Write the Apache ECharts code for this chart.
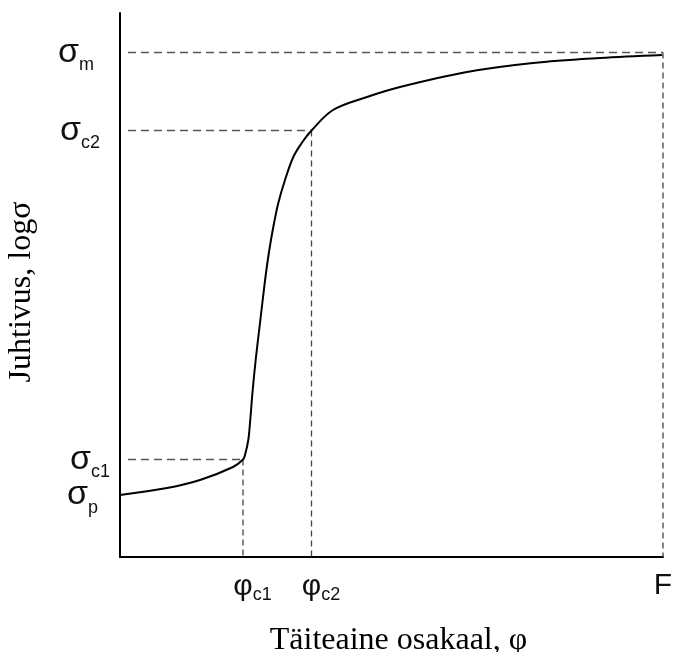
<!DOCTYPE html>
<html><head><meta charset="utf-8">
<script src="https://cdn.jsdelivr.net/npm/echarts@6/dist/echarts.min.js"></script>
<style>html,body{margin:0;padding:0;background:#fff}#c{width:673px;height:652px}</style>
</head><body><div id="c"></div><script>
// Curve (filler fraction φ vs log conductivity)
const curveX = [0, 47, 80, 113, 123, 125, 128.3, 130, 132.7, 136, 140, 142.7, 146, 149.3, 153.3, 158.3, 165, 173.3, 181.7, 191.5, 213, 247, 280, 347, 413, 480, 542];
const curveY = [62, 69, 77, 90, 97.5, 102, 117, 134, 167, 200, 234, 257, 284, 307, 330, 354, 377, 400, 414, 426.5, 447, 460, 470, 485, 494, 499, 502];

// Axis marks
const xTickValues = [123, 191.5, 543];
const xLabelBase = ['φ', 'φ', 'F'];
const xLabelSub = ['c1', 'c2', ''];
const yTickValues = [62, 97.5, 426.5, 504.5];
const yLabelBase = ['σ', 'σ', 'σ', 'σ'];
const yLabelSub = ['p', 'c1', 'c2', 'm'];

// Guide lines: σ level joined to φ position
const guideSigma = [97.5, 426.5, 504.5];
const guidePhi = [123, 191.5, 543];

const xMax = 543, yMax = 544;
const guideStart = 8;
const yIndent = [9, 12, 2, 0];

function idxOf(arr, v) { for (let i = 0; i < arr.length; i++) if (Math.abs(arr[i] - v) < 0.01) return i; return -1; }

const yRich = { b: { fontSize: 18, fontFamily: 'Liberation Sans', color: '#111', lineHeight: 4, padding: [26, 0, 0, 0] } };
yIndent.forEach((p, i) => { yRich['a' + i] = { fontSize: 34, fontFamily: 'Liberation Sans', color: '#111', lineHeight: 4, padding: [13, 0, 13, p] }; });

const series = [];
guideSigma.forEach((s, i) => {
  series.push({ type: 'line', data: [[guideStart, s], [guidePhi[i], s]], showSymbol: false, silent: true,
    lineStyle: { color: '#555', width: 1.3, type: [8, 5] } });
  series.push({ type: 'line', data: [[guidePhi[i], s], [guidePhi[i], 0]], showSymbol: false, silent: true,
    lineStyle: { color: '#444', width: 1.3, type: [6, 4] } });
});
series.push({ type: 'line', data: curveX.map((x, i) => [x, curveY[i]]), showSymbol: false, smooth: 0.35,
  lineStyle: { color: '#000', width: 2 } });

const chart = echarts.init(document.getElementById('c'), null, { renderer: 'canvas' });
chart.setOption({
  animation: false,
  backgroundColor: '#fff',
  grid: { left: 120, top: 13, width: 543, height: 544, containLabel: false, outerBoundsMode: 'none' },
  xAxis: {
    type: 'value', min: 0, max: xMax,
    name: 'Täiteaine osakaal, φ', nameLocation: 'middle', nameGap: 68,
    nameTextStyle: { fontFamily: 'Liberation Serif', fontSize: 32, color: '#000', padding: [0, 0, 0, 14] },
    axisLine: { show: true, lineStyle: { color: '#000', width: 2 } },
    axisTick: { show: false }, splitLine: { show: false },
    axisLabel: {
      customValues: xTickValues, margin: 17, showMinLabel: true, showMaxLabel: true, hideOverlap: false,
      formatter: function (v) {
        const i = idxOf(xTickValues, v);
        if (i < 0) return '';
        if (!xLabelSub[i]) return '{f|' + xLabelBase[i] + '}';
        return '{a|' + xLabelBase[i] + '}{b|' + xLabelSub[i] + '}';
      },
      rich: {
        a: { fontSize: 30, fontFamily: 'Liberation Sans', color: '#111', lineHeight: 34, padding: [0, 0, 8, 19] },
        b: { fontSize: 18, fontFamily: 'Liberation Sans', color: '#111', lineHeight: 34, padding: [8, 0, 0, 0] },
        f: { fontSize: 30, fontFamily: 'Liberation Sans', color: '#111', lineHeight: 24 }
      }
    }
  },
  yAxis: {
    type: 'value', min: 0, max: yMax,
    name: 'Juhtivus, logσ', nameLocation: 'middle', nameGap: 82, nameRotate: 90,
    nameTextStyle: { fontFamily: 'Liberation Serif', fontSize: 32, color: '#000', padding: [0, 14, 0, 0] },
    axisLine: { show: true, lineStyle: { color: '#000', width: 2 } },
    axisTick: { show: false }, splitLine: { show: false },
    axisLabel: {
      customValues: [0].concat(yTickValues), margin: 62, align: 'left', hideOverlap: false,
      formatter: function (v) {
        const i = idxOf(yTickValues, v);
        if (i < 0) return '';
        return '{a' + i + '|' + yLabelBase[i] + '}{b|' + yLabelSub[i] + '}';
      },
      rich: yRich
    }
  },
  series: series
});
</script></body></html>
